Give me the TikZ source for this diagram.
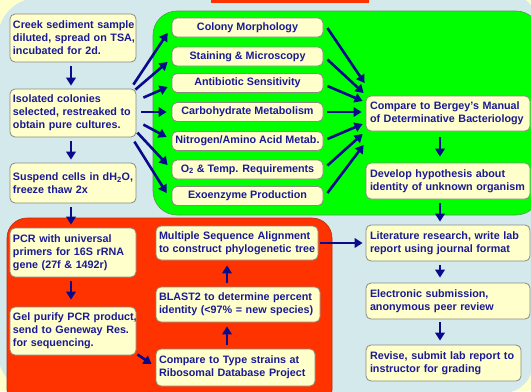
\documentclass[tikz,border=0pt]{standalone}
\usepackage{fontspec}
\setmainfont{Liberation Sans}
\usetikzlibrary{arrows.meta,calc}
\definecolor{bgblue}{HTML}{D4E9EC}
\definecolor{cream}{HTML}{FFFFCC}
\definecolor{gfill}{HTML}{00FF00}
\definecolor{gedge}{HTML}{4E9A4E}
\definecolor{rfill}{HTML}{FF3300}
\definecolor{redge}{HTML}{B03010}
\definecolor{navy}{HTML}{1A1A96}
\definecolor{arrowc}{HTML}{0A0A8C}
\definecolor{boxgray}{HTML}{8A8A80}
\newcommand{\ml}[1]{\mbox{#1}}
\begin{document}
\begin{tikzpicture}[x=1bp,y=-1bp,
  box/.style={draw=boxgray, fill=cream, rounded corners=5bp, line width=0.8bp,
    inner xsep=3bp, inner ysep=0bp, align=left, text=navy,
    font=\fontsize{10.8pt}{13pt}\selectfont\bfseries},
  lbox/.style={box, text width=120bp, minimum height=48bp},
  rbox/.style={box, text width=156bp, minimum height=36bp, inner xsep=4bp},
  redbox/.style={box, minimum height=35bp},
  midbox/.style={box, align=center, minimum width=151bp, minimum height=19bp},
  arr/.style={draw=arrowc, line width=2.6bp, -{Triangle[length=8bp,width=9.5bp]},
    shorten <=4bp, shorten >=3bp}
]
\useasboundingbox (0,0) rectangle (531,391);
\clip (0,0) rectangle (531,391);
% backgrounds
\fill[cream] (0,0) rectangle (531,391);
\fill[bgblue] (38,-2) -- (518,-2) arc[start angle=-90,end angle=0,radius=15]
  -- (533,363) arc[start angle=0,end angle=90,radius=30]
  -- (38,393) arc[start angle=90,end angle=180,radius=40]
  -- (-2,38) arc[start angle=180,end angle=270,radius=40] -- cycle;
\filldraw[fill=gfill, draw=gedge, line width=0.6bp, rounded corners=24bp]
  (153,11) rectangle (540,215);
\filldraw[fill=rfill, draw=redge, line width=0.6bp, rounded corners=20bp]
  (7,218) rectangle (332,410);
\fill[rfill] (211,0) rectangle (369,3);

% left column
\node[lbox] (creek) at (73,38) {\ml{Creek sediment sample}\\\ml{diluted, spread on TSA,}\\\ml{incubated for 2d.}};
\node[lbox] (iso) at (73,113) {\ml{Isolated colonies}\\\ml{selected, restreaked to}\\\ml{obtain pure cultures.}};
\node[lbox, minimum height=40bp] (susp) at (73,183) {\ml{Suspend cells in dH\textsubscript{2}O,}\\\ml{freeze thaw 2x}};
\node[lbox, minimum height=49bp] (pcr) at (73,252.5) {\ml{PCR with universal}\\\ml{primers for 16S rRNA}\\\ml{gene (27f \& 1492r)}};
\node[lbox] (gel) at (73,331) {\ml{Gel purify PCR product,}\\\ml{send to Geneway Res.}\\\ml{for sequencing.}};

% middle column (green)
\node[midbox] (colony) at (247.5,27.5) {Colony Morphology};
\node[midbox] (stain) at (247.5,56.5) {Staining \& Microscopy};
\node[midbox] (anti) at (247.5,83) {Antibiotic Sensitivity};
\node[midbox] (carb) at (247.5,112) {Carbohydrate Metabolism};
\node[midbox] (nitro) at (247.5,141) {Nitrogen/Amino Acid Metab.};
\node[midbox] (oxy) at (247.5,169.5) {O\textsubscript{2} \& Temp. Requirements};
\node[midbox] (exo) at (247.5,196) {Exoenzyme Production};

% right column
\node[rbox, minimum height=35bp] (bergey) at (448,113.5) {\ml{Compare to Bergey's Manual}\\\ml{of Determinative Bacteriology}};
\node[rbox] (hypo) at (448,181) {\ml{Develop hypothesis about}\\\ml{identity of unknown organism}};
\node[rbox] (lit) at (448,243) {\ml{Literature research, write lab}\\\ml{report using journal format}};
\node[rbox] (elec) at (448,301) {\ml{Electronic submission,}\\\ml{anonymous peer review}};
\node[rbox, text width=147bp] (revise) at (443.5,363) {\ml{Revise, submit lab report to}\\\ml{instructor for grading}};

% red column
\node[redbox, text width=156bp, minimum height=34bp] (msa) at (237,243) {\ml{Multiple Sequence Alignment}\\\ml{to construct phylogenetic tree}};
\node[redbox, text width=158bp] (blast) at (238,304.5) {\ml{BLAST2 to determine percent}\\\ml{identity (<97\% = new species)}};
\node[redbox, text width=153bp, minimum height=37bp] (type) at (235.5,367.5) {\ml{Compare to Type strains at}\\\ml{Ribosomal Database Project}};

% reference columns for vertical arrows
\coordinate (lx) at (71,0);
\coordinate (rx) at (440,0);
\coordinate (redx) at (227,0);

% left vertical arrows
\draw[arr] (creek.south -| lx) -- (iso.north -| lx);
\draw[arr] (iso.south -| lx) -- (susp.north -| lx);
\draw[arr] (susp.south -| lx) -- (pcr.north -| lx);
\draw[arr, shorten >=7bp] (pcr.south -| lx) -- (gel.north -| lx);
\draw[arr, shorten <=0bp, shorten >=0bp] ($(gel.south east)+(1,-1)$) -- ($(type.west)+(-4,-3.5)$);

% fan out
\draw[arr, shorten <=0bp, shorten >=0bp] ($(iso.north east)+(-3,-4)$) -- ($(colony.west)+(-4,5.5)$);
\draw[arr, shorten <=0bp, shorten >=0bp] ($(iso.north east)+(-1,1)$) -- ($(stain.west)+(-4,5.5)$);
\draw[arr, shorten <=0bp, shorten >=0bp] ($(iso.north east)+(7,9)$) -- ($(anti.west)+(-4,4)$);
\draw[arr, shorten <=0bp, shorten >=0bp] ($(iso.east)+(5,-1)$) -- ($(carb.west)+(-5,0)$);
\draw[arr, shorten <=0bp, shorten >=0bp] ($(iso.north east)+(7,36)$) -- ($(nitro.west)+(-5,-4)$);
\draw[arr, shorten <=0bp, shorten >=0bp] ($(iso.north east)+(1,44)$) -- ($(oxy.west)+(-4,-4.5)$);
\draw[arr, shorten <=0bp, shorten >=0bp] ($(iso.north east)+(-2,53)$) -- ($(exo.west)+(-5,-3)$);

% fan in
\draw[arr, shorten <=0bp, shorten >=0bp] ($(colony.east)+(4,0.5)$) -- ($(bergey.west)+(-1,-30.5)$);
\draw[arr, shorten <=0bp, shorten >=0bp] ($(stain.east)+(4,3)$) -- ($(bergey.west)+(-2,-20.5)$);
\draw[arr, shorten <=0bp, shorten >=0bp] ($(anti.east)+(4,3)$) -- ($(bergey.west)+(-3,-12.5)$);
\draw[arr, shorten <=0bp, shorten >=0bp] ($(carb.east)+(4,0)$) -- ($(bergey.west)+(-4,-1.5)$);
\draw[arr, shorten <=0bp, shorten >=0bp] ($(nitro.east)+(4,-2)$) -- ($(bergey.west)+(-3,10.5)$);
\draw[arr, shorten <=0bp, shorten >=0bp] ($(oxy.east)+(4,-4)$) -- ($(bergey.west)+(-3,20.5)$);
\draw[arr, shorten <=0bp, shorten >=0bp] ($(exo.east)+(4,-3)$) -- ($(bergey.west)+(-2,31.5)$);

% right vertical arrows
\draw[arr, shorten <=6bp, shorten >=6bp] (bergey.south -| rx) -- (hypo.north -| rx);
\draw[arr] (hypo.south -| rx) -- (lit.north -| rx);
\draw[arr, shorten >=5bp] (lit.south -| rx) -- (elec.north -| rx);
\draw[arr, shorten <=3bp, shorten >=4bp] (elec.south -| rx) -- (revise.north -| rx);

% red column arrows
\draw[arr, shorten >=4bp] (type.north -| redx) -- (blast.south -| redx);
\draw[arr, shorten >=5bp] (blast.north -| redx) -- (msa.south -| redx);
\draw[arr, shorten <=2bp, shorten >=3bp] (msa.east) -- (lit.west);
\end{tikzpicture}
\end{document}
